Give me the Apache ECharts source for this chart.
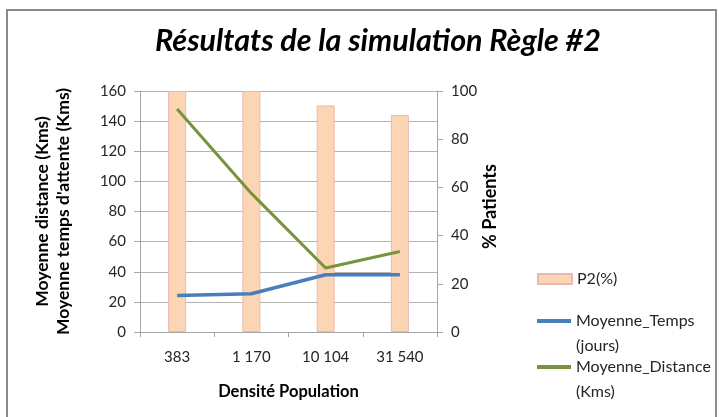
<!DOCTYPE html>
<html>
<head>
<meta charset="utf-8">
<script src="https://cdn.jsdelivr.net/npm/echarts@6/dist/echarts.min.js"></script>
<style>
  html, body { margin: 0; padding: 0; background: #fff; }
  #chart { width: 719px; height: 417px; }
</style>
</head>
<body>
<div id="chart"></div>
<script>
// Population density classes on the x axis
const categories = ['383', '1 170', '10 104', '31 540'];
// Share of patients (right axis, %)
const p2Percent = [100, 100, 94, 90];
// Mean waiting time and mean distance (left axis)
const moyenneTemps = [24.2, 25.4, 38, 38];
const moyenneDistance = [148, 92, 42.5, 53.5];
// Axis tick ranges
const leftTicks = { min: 0, max: 160, interval: 20 };
const rightTicks = { min: 0, max: 100, interval: 20 };

const FONT = 'Lato';
const TXT = '#262626';
const AXIS_GRAY = '#a6a6a6';
const LEG_LH = 25;

const chart = echarts.init(document.getElementById('chart'), null, { renderer: 'canvas' });

// One legend block per entry; two-line entries get an empty leading line so the
// swatch sits level with the first line of text.
function legendItem(name, top, h, twoLines) {
  return {
    data: [name],
    orient: 'vertical',
    left: 537, top: top,
    padding: 0,
    icon: 'rect',
    itemWidth: 34, itemHeight: h,
    formatter: twoLines ? (n) => '\u00a0\n' + n : (n) => n,
    textStyle: { fontFamily: FONT, fontSize: 16, color: TXT, lineHeight: LEG_LH }
  };
}

chart.setOption({
  animation: false,
  backgroundColor: '#ffffff',
  textStyle: { fontFamily: FONT, color: TXT },
  title: {
    text: 'Résultats de la simulation Règle #2',
    left: 373,
    textAlign: 'center',
    top: 21,
    textStyle: { fontFamily: FONT, fontSize: 30.5, fontWeight: 'bold', fontStyle: 'italic', color: '#000' }
  },
  graphic: [{
    type: 'rect',
    shape: { x: 7, y: 10, width: 709, height: 420 },
    style: { fill: 'none', stroke: '#8c8c8c', lineWidth: 2 },
    silent: true
  }],
  legend: [
    legendItem('P2(%)', 266.5, 10, false),
    legendItem('Moyenne_Temps\n(jours)', 283.5, 4, true),
    legendItem('Moyenne_Distance\n(Kms)', 329.5, 4, true)
  ],
  grid: { left: 140, right: 282, top: 91, bottom: 85, containLabel: false },
  xAxis: {
    type: 'category',
    data: categories,
    name: 'Densité Population',
    nameLocation: 'middle',
    nameGap: 51,
    nameTextStyle: { fontFamily: FONT, fontSize: 16.5, fontWeight: 'bold', color: '#000' },
    axisLine: { lineStyle: { color: AXIS_GRAY, width: 1 } },
    axisTick: { show: true, length: 5, lineStyle: { color: AXIS_GRAY } },
    axisLabel: { fontFamily: FONT, fontSize: 15, color: TXT, margin: 18 }
  },
  yAxis: [
    {
      type: 'value',
      min: leftTicks.min, max: leftTicks.max, interval: leftTicks.interval,
      name: 'Moyenne distance (Kms)\nMoyenne temps d\'attente (Kms)',
      nameLocation: 'middle',
      nameGap: 66,
      nameRotate: 90,
      nameTextStyle: { fontFamily: FONT, fontSize: 17.5, fontWeight: 'bold', color: '#000', lineHeight: 21 },
      axisLine: { show: true, lineStyle: { color: AXIS_GRAY } },
      axisTick: { show: true, length: 6, lineStyle: { color: AXIS_GRAY } },
      axisLabel: { fontFamily: FONT, fontSize: 15, color: TXT, margin: 14 },
      splitLine: { show: true, lineStyle: { color: '#b3b3b3', width: 1 } }
    },
    {
      type: 'value',
      min: rightTicks.min, max: rightTicks.max, interval: rightTicks.interval,
      name: '% Patients',
      nameLocation: 'middle',
      nameGap: 43,
      nameRotate: 90,
      nameTextStyle: { fontFamily: FONT, fontSize: 18, fontWeight: 'bold', color: '#000', padding: [0, 0, 0, 10] },
      axisLine: { show: true, lineStyle: { color: AXIS_GRAY } },
      axisTick: { show: true, length: 6, lineStyle: { color: AXIS_GRAY } },
      axisLabel: { fontFamily: FONT, fontSize: 15, color: TXT, margin: 14 },
      splitLine: { show: false }
    }
  ],
  series: [
    {
      name: 'P2(%)',
      type: 'bar',
      yAxisIndex: 1,
      data: p2Percent,
      barWidth: 18,
      itemStyle: { color: '#fcd5b4', borderColor: '#e9b9b3', borderWidth: 1 },
      z: 1
    },
    {
      name: 'Moyenne_Temps\n(jours)',
      type: 'line',
      yAxisIndex: 0,
      data: moyenneTemps,
      showSymbol: false,
      symbol: 'none',
      lineStyle: { color: '#4a7ebb', width: 3.5 },
      itemStyle: { color: '#4a7ebb' },
      z: 3
    },
    {
      name: 'Moyenne_Distance\n(Kms)',
      type: 'line',
      yAxisIndex: 0,
      data: moyenneDistance,
      showSymbol: false,
      symbol: 'none',
      lineStyle: { color: '#77933c', width: 3 },
      itemStyle: { color: '#77933c' },
      z: 3
    }
  ]
});
</script>
</body>
</html>
